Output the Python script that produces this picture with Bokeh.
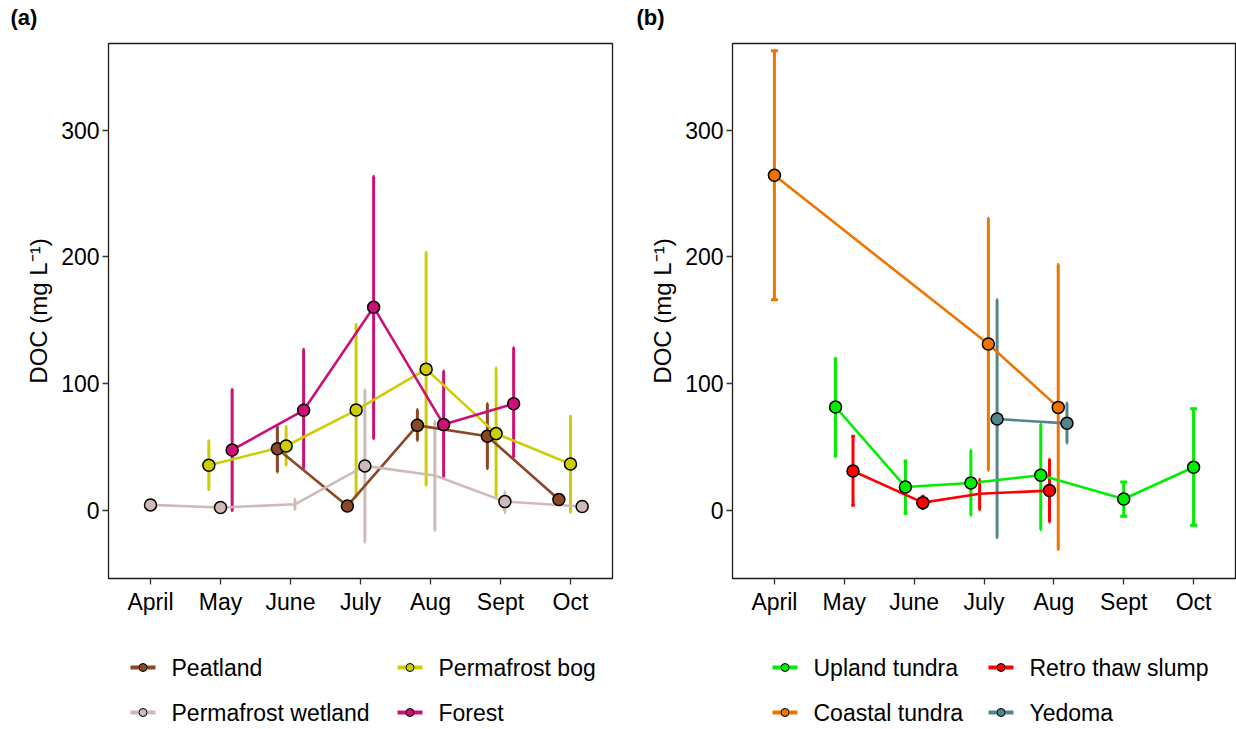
from bokeh.plotting import figure
from bokeh.layouts import row, column
from bokeh.models import Range1d, FixedTicker, CustomJSTickFormatter
from bokeh.core.properties import value
from bokeh.embed import file_html
from bokeh.resources import INLINE

N = None
months = ["April", "May", "June", "July", "Aug", "Sept", "Oct"]
y_ticks = [0, 100, 200, 300]

# ---- Panel (a) ----
a_groups = ["Peatland", "Permafrost bog", "Permafrost wetland", "Forest"]
a_colors = ["#8B4726", "#CDCD00", "#CFBABA", "#CD1076"]
peat_mean = [N, N, 48.6, 3.4, 67.0, 58.4, 8.4]
peat_lo = [N, N, 30.2, 1.5, 55.2, 32.9, 6.5]
peat_hi = [N, N, 66.2, 5.5, 79.4, 84.1, 10.5]
bog_mean = [N, 35.5, 50.7, 79.1, 111.4, 60.5, 36.5]
bog_lo = [N, 16.3, 35.5, 10.5, 19.7, 10.5, -1.3]
bog_hi = [N, 54.7, 66.2, 146.7, 203.5, 112.2, 74.1]
wet_mean = [4.2, 2.1, 4.7, 35.0, 27.4, 6.8, 2.9]
wet_lo = [3.2, 1.1, 0.7, -25.0, -15.8, -1.8, 1.9]
wet_hi = [5.2, 3.1, 8.7, 95.0, 70.0, 14.4, 3.9]
for_mean = [N, 47.6, 78.9, 160.3, 67.6, 84.1, N]
for_lo = [N, 0.0, 32.9, 56.5, 26.3, 42.0, N]
for_hi = [N, 95.2, 127.0, 263.4, 109.9, 128.3, N]
a_hidden = {"Permafrost wetland": ["June", "Aug"]}

# ---- Panel (b) ----
b_groups = ["Upland tundra", "Retro thaw slump", "Coastal tundra", "Yedoma"]
b_colors = ["#00EE00", "#FF0000", "#EE7600", "#53868B"]
up_mean = [N, 81.5, 18.4, 21.5, 27.6, 8.9, 33.9]
up_lo = [N, 42.8, -2.6, -3.9, -15.2, -4.7, -11.8]
up_hi = [N, 119.6, 38.9, 47.3, 67.8, 22.3, 80.2]
rts_mean = [N, 31.0, 6.0, 13.0, 15.5, N, N]
rts_lo = [N, 3.9, 1.3, 0.5, -9.2, N, N]
rts_hi = [N, 58.4, 11.0, 24.2, 40.2, N, N]
coast_mean = [264.4, N, N, 131.2, 81.2, N, N]
coast_lo = [166.2, N, N, 31.5, -31.0, N, N]
coast_hi = [362.8, N, N, 230.5, 194.0, N, N]
yed_mean = [N, N, N, 72.0, 68.6, N, N]
yed_lo = [N, N, N, -21.5, 53.1, N, N]
yed_hi = [N, N, N, 166.2, 84.6, N, N]
b_hidden = {"Retro thaw slump": ["July"]}

DODGE = 0.5
CAP = 0.1
FONT = "Liberation Sans"
W_PANEL = 618
TOP_H = 42
MAIN_H = 598
LEG_H = 89


def make_panel(groups, colors, means, los, his, hidden, border_left,
               border_right):
    p = figure(width=W_PANEL, height=MAIN_H, x_range=Range1d(0.4, 7.6),
               y_range=Range1d(-53.9, 368.5), output_backend="svg",
               toolbar_location=None, min_border_left=border_left,
               min_border_right=border_right, min_border_top=1,
               min_border_bottom=62)
    p.xgrid.visible = False
    p.ygrid.visible = False
    p.outline_line_color = "#1a1a1a"
    p.outline_line_width = 1.3

    p.xaxis.ticker = FixedTicker(ticks=list(range(1, len(months) + 1)))
    p.xaxis.formatter = CustomJSTickFormatter(
        args=dict(labels=months),
        code="const i = Math.round(tick) - 1; return labels[i] || '';")
    p.yaxis.ticker = FixedTicker(ticks=y_ticks)
    p.yaxis.axis_label = "DOC (mg L\u207b\u00b9)"
    for ax in (p.xaxis[0], p.yaxis[0]):
        ax.axis_line_color = None
        ax.major_tick_line_color = "#333333"
        ax.major_tick_line_width = 1.3
        ax.major_tick_out = 6
        ax.major_tick_in = 0
        ax.minor_tick_line_color = None
        ax.major_label_text_font = FONT
        ax.major_label_text_font_size = "23px"
        ax.major_label_text_color = "black"
        ax.axis_label_text_font = FONT
        ax.axis_label_text_font_size = "24px"
        ax.axis_label_text_font_style = "normal"
        ax.axis_label_text_color = "black"
    p.xaxis.major_label_standoff = 4
    p.yaxis.major_label_standoff = 3
    p.yaxis.axis_label_standoff = 6

    G = len(groups)
    xs = [[None] * len(months) for _ in range(G)]
    caps = [[None] * len(months) for _ in range(G)]
    for j in range(len(months)):
        idx = [g for g in range(G) if means[g][j] is not None]
        n = len(idx)
        for k, g in enumerate(idx):
            xs[g][j] = (j + 1) + DODGE * ((k + 0.5) / n - 0.5)
            caps[g][j] = CAP / n

    # error bars
    for g in range(G):
        vx, vlo, vhi, cx0, cx1, cy = [], [], [], [], [], []
        for j in range(len(months)):
            if means[g][j] is None:
                continue
            x = xs[g][j]
            vx.append(x); vlo.append(los[g][j]); vhi.append(his[g][j])
            for yv in (los[g][j], his[g][j]):
                cx0.append(x - caps[g][j] / 2); cx1.append(x + caps[g][j] / 2)
                cy.append(yv)
        p.segment(x0=vx, y0=vlo, x1=vx, y1=vhi, line_color=colors[g],
                  line_width=3)
        p.segment(x0=cx0, y0=cy, x1=cx1, y1=cy, line_color=colors[g],
                  line_width=3)
    # lines
    for g in range(G):
        lx = [xs[g][j] for j in range(len(months)) if means[g][j] is not None]
        ly = [means[g][j] for j in range(len(months)) if means[g][j] is not None]
        p.line(lx, ly, line_color=colors[g], line_width=2.6)
    # points
    for g in range(G):
        hid = hidden.get(groups[g], [])
        px = [xs[g][j] for j in range(len(months))
              if means[g][j] is not None and months[j] not in hid]
        py = [means[g][j] for j in range(len(months))
              if means[g][j] is not None and months[j] not in hid]
        p.scatter(px, py, size=12, fill_color=colors[g],
                  line_color="black", line_width=1.5)
    return p


def strip(width, height):
    s = figure(width=width, height=height, x_range=Range1d(0, width),
               y_range=Range1d(height, 0), output_backend="svg",
               toolbar_location=None, min_border=0,
               x_axis_type=None, y_axis_type=None)
    s.xgrid.visible = False
    s.ygrid.visible = False
    s.outline_line_color = None
    return s


pa = make_panel(a_groups, a_colors,
                [peat_mean, bog_mean, wet_mean, for_mean],
                [peat_lo, bog_lo, wet_lo, for_lo],
                [peat_hi, bog_hi, wet_hi, for_hi],
                a_hidden, 108, 6)
pb = make_panel(b_groups, b_colors,
                [up_mean, rts_mean, coast_mean, yed_mean],
                [up_lo, rts_lo, coast_lo, yed_lo],
                [up_hi, rts_hi, coast_hi, yed_hi],
                b_hidden, 114, 1)

# panel tags
tags = ["(a)", "(b)"]
tag_x = [10, 636]
top = strip(2 * W_PANEL, TOP_H)
top.text(x=tag_x, y=[17, 17], text=tags, text_font=value(FONT),
         text_font_size=value("22px"), text_font_style="bold",
         text_baseline="middle", text_align="left", text_color="black")

# legends (two columns per panel, keys: line + point)
leg = strip(2 * W_PANEL, LEG_H)
leg_groups = a_groups + b_groups
leg_colors = a_colors + b_colors
key_x = [130, 397, 130, 397, 772, 988, 772, 988]  # order: groups above
key_y = [27, 27, 72, 72, 27, 27, 72, 72]
KEY_W = 25
leg.segment(x0=key_x, y0=key_y, x1=[k + KEY_W for k in key_x], y1=key_y,
            line_color=leg_colors, line_width=4)
leg.scatter([k + KEY_W / 2 for k in key_x], key_y, size=8,
            fill_color=leg_colors, line_color="black", line_width=1)
leg.text(x=[k + KEY_W + 16 for k in key_x], y=key_y, text=leg_groups,
         text_font=value(FONT), text_font_size=value("23px"),
         text_baseline="middle", text_align="left", text_color="black")

layout = column(top, row(pa, pb), leg)
open("out.html", "w").write(file_html(layout, INLINE))
